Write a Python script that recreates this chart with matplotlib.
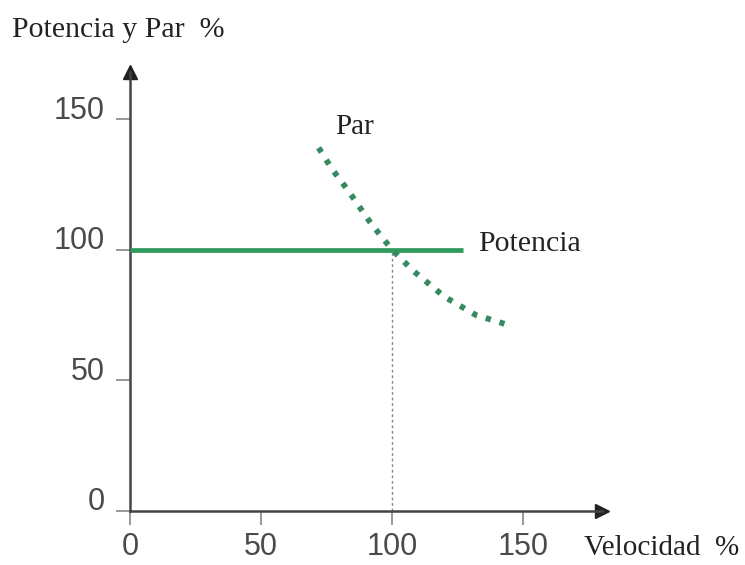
import matplotlib
matplotlib.use("Agg")
import matplotlib.pyplot as plt
import matplotlib.transforms as mtransforms

# Data
potencia_x = [0, 127]
potencia_y = [100, 100]
par_x = [72, 77, 83, 92, 100, 108, 120, 132, 145]
par_y = [139, 131, 123, 110, 100, 92, 82, 75, 71]
ref_x = [100, 100]
ref_y = [0, 100]
xticks = [0, 50, 100, 150]
yticks = [0, 50, 100, 150]

fig = plt.figure(figsize=(7.45, 5.65), dpi=100)
ax = fig.add_axes([130/745, 54/565, (601.6-130)/745, (511-72)/565])
ax.set_xlim(0, 180)
ax.set_ylim(0, 168)

axis_col = "#444444"
for s in ["top", "right"]:
    ax.spines[s].set_visible(False)
for s in ["left", "bottom"]:
    ax.spines[s].set_color(axis_col)
    ax.spines[s].set_linewidth(1.8)

# arrows
ax.plot(1, 0, marker=">", color="#222222", markersize=10, transform=ax.transAxes, clip_on=False)
ax.plot(0, 1, marker="^", color="#222222", markersize=10, transform=ax.transAxes, clip_on=False)

# reference dotted line
ax.plot(ref_x, ref_y, color="#888888", lw=1.0, linestyle=(0, (2, 2)), zorder=2)

# Potencia
ax.plot(potencia_x, potencia_y, color="#2e9a5c", lw=3.4, solid_capstyle="butt", zorder=3)

# Par (dotted)
ax.plot(par_x, par_y, color="#358a60", lw=4.2, linestyle=(0, (0.9, 1.55)),
        dash_capstyle="butt", zorder=4)

ax.set_xticks(xticks)
ax.set_yticks(yticks)
ax.set_xticklabels([str(v) for v in xticks])
ax.set_yticklabels([str(v) for v in yticks])
ax.tick_params(axis="both", colors="#888888", length=10, width=1.2, labelsize=22,
               labelcolor="#4a4a4a")
ax.tick_params(axis="y", pad=8)
ax.tick_params(axis="x", pad=5)
for lab in ax.get_xticklabels() + ax.get_yticklabels():
    lab.set_fontfamily("Liberation Sans")
off = mtransforms.ScaledTranslation(0, 12/100, fig.dpi_scale_trans)
for lab in ax.get_yticklabels():
    lab.set_transform(lab.get_transform() + off)

serif = "Liberation Serif"
tcol = "#222222"
fig.text(12/745, 1 - 30/565, "Potencia y Par  %", fontsize=21.5, family=serif,
         color=tcol, ha="left", va="center")
fig.text(584/745, 1 - 548/565, "Velocidad  %", fontsize=21, family=serif,
         color=tcol, ha="left", va="center")
ax.text(78.5, 142, "Par", fontsize=21, family=serif, color=tcol, ha="left", va="bottom")
ax.text(133, 102, "Potencia", fontsize=21.5, family=serif, color=tcol, ha="left", va="center")

fig.savefig("out.png", dpi=100, facecolor="white")
